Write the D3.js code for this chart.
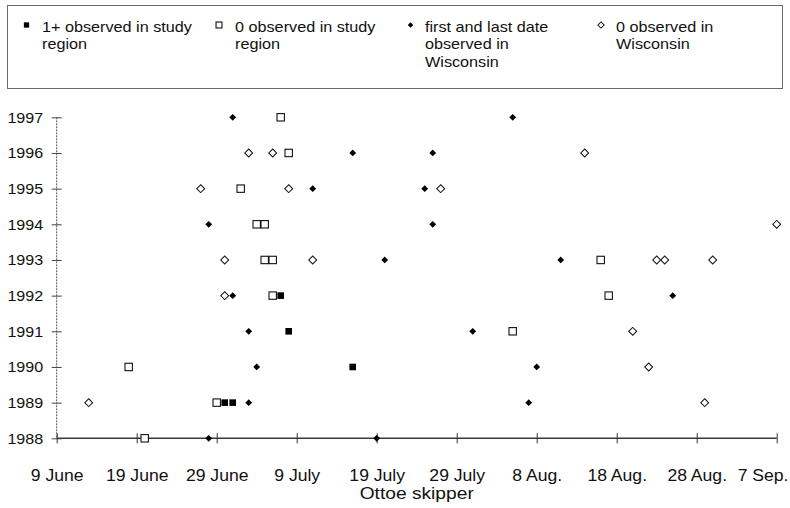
<!DOCTYPE html>
<html>
<head>
<meta charset="utf-8">
<script src="https://cdn.jsdelivr.net/npm/d3@7"></script>
<style>
  html, body { margin: 0; padding: 0; background: #fff; }
  svg { display: block; font-family: "Liberation Sans", Arial, Helvetica, sans-serif; }
</style>
</head>
<body>
<svg id="chart" width="790" height="508"></svg>
<script>
// ---- data (dates within the season; year axis = observation year) ----
const tickDates = ["06-09","06-19","06-29","07-09","07-19","07-29","08-08","08-18","08-28","09-07"];
const tickLabels = ["9 June","19 June","29 June","9 July","19 July","29 July","8 Aug.","18 Aug.","28 Aug.","7 Sep."];
const years = [1988,1989,1990,1991,1992,1993,1994,1995,1996,1997];

// 1+ observed in study region (filled square)
const obsStudyYears = [1992, 1991, 1990, 1989, 1989];
const obsStudyDates = ["07-07","07-08","07-16","06-30","07-01"];

// 0 observed in study region (open square)
const zeroStudyYears = [1997, 1996, 1995, 1994, 1994, 1993, 1993, 1993, 1992, 1992, 1991, 1990, 1989, 1988];
const zeroStudyDates = ["07-07","07-08","07-02","07-04","07-05","07-05","07-06","08-16","07-06","08-17","08-05","06-18","06-29","06-20"];

// first and last date observed in Wisconsin (filled diamond)
const wiFirstLastYears = [1997,1997,1996,1996,1995,1995,1994,1994,1993,1993,1992,1992,1991,1991,1990,1990,1989,1989,1988,1988];
const wiFirstLastDates = ["07-01","08-05","07-16","07-26","07-11","07-25","06-28","07-26","07-20","08-11","07-01","08-25","07-03","07-31","07-04","08-08","07-03","08-07","06-28","07-19"];

// 0 observed in Wisconsin (open diamond)
const zeroWiYears = [1996,1996,1996,1995,1995,1995,1994,1993,1993,1993,1993,1993,1992,1991,1990,1989,1989];
const zeroWiDates = ["07-03","07-06","08-14","06-27","07-08","07-27","09-07","06-30","07-11","08-23","08-24","08-30","06-30","08-20","08-22","06-13","08-29"];

const legendLabels = [
  ["1+ observed in study", "region"],
  ["0 observed in study", "region"],
  ["first and last date", "observed in", "Wisconsin"],
  ["0 observed in", "Wisconsin"]
];
const xTitle = "Ottoe skipper";

// ---- setup ----
const W = 790;
const parse = s => d3.timeParse("%Y-%m-%d")("2001-" + s);
const svg = d3.select("#chart");

const x = d3.scaleTime()
  .domain([parse(tickDates[0]), parse(tickDates[tickDates.length - 1])])
  .range([56.7, 776.7]);
const y = d3.scaleLinear().domain([1988, 1997]).range([438.3, 117.3]);

// ---- legend box ----
const leg = svg.append("g");
leg.append("rect").attr("x", 7.5).attr("y", 5.5).attr("width", 775).attr("height", 83)
  .attr("fill", "none").attr("stroke", "#6a6a6a").attr("stroke-width", 1);

const legendItems = [
  {mx: 26.5, tx: 42, kind: "fsq"},
  {mx: 219, tx: 235, kind: "osq"},
  {mx: 410.5, tx: 425, kind: "fdi"},
  {mx: 601, tx: 616, kind: "odi"}
];

function drawMarker(g, kind, cx, cy, scale) {
  const s = scale || 1;
  if (kind === "fsq") {
    const a = 6.6 * s;
    g.append("rect").attr("x", cx - a/2).attr("y", cy - a/2).attr("width", a).attr("height", a).attr("fill", "#000");
  } else if (kind === "osq") {
    const a = 7.4 * s;
    g.append("rect").attr("x", cx - a/2).attr("y", cy - a/2).attr("width", a).attr("height", a)
      .attr("fill", "#fff").attr("stroke", "#111").attr("stroke-width", 1.1);
  } else if (kind === "fdi") {
    const a = 4.8 * s;
    g.append("rect").attr("x", -a/2).attr("y", -a/2).attr("width", a).attr("height", a)
      .attr("transform", `translate(${cx},${cy}) rotate(45)`).attr("fill", "#000");
  } else {
    const a = 5.6 * s;
    g.append("rect").attr("x", -a/2).attr("y", -a/2).attr("width", a).attr("height", a)
      .attr("transform", `translate(${cx},${cy}) rotate(45)`)
      .attr("fill", "#fff").attr("stroke", "#111").attr("stroke-width", 1);
  }
}

legendItems.forEach((it, i) => {
  drawMarker(leg, it.kind, it.mx, 25, 0.8);
  const t = leg.append("g").attr("transform", `translate(${it.tx},32) scale(1.08,1)`);
  legendLabels[i].forEach((line, j) => {
    t.append("text").attr("x", 0).attr("y", j * 17.5)
      .attr("font-size", 15).attr("fill", "#111").text(line);
  });
});

// ---- axes ----
svg.append("line").attr("x1", 56.7).attr("x2", 56.7).attr("y1", y(1997)).attr("y2", y(1988))
  .attr("stroke", "#555").attr("stroke-width", 1).attr("stroke-dasharray", "2,1");

const yAxis = svg.append("g").attr("transform", "translate(56.7,0)")
  .call(d3.axisLeft(y).tickValues(years).tickFormat(d3.format("d")).tickSize(5));
yAxis.select(".domain").remove();
yAxis.selectAll(".tick line").attr("x1", -5).attr("x2", 5).attr("stroke", "#444");
yAxis.selectAll(".tick text")
  .attr("x", 0).attr("dy", 0).attr("y", 0)
  .attr("text-anchor", "end")
  .attr("transform", "translate(-13.5,5) scale(1.15,1)")
  .attr("font-size", 14).attr("fill", "#111")
  .attr("font-family", "'Liberation Sans', Arial, sans-serif");

const xAxis = svg.append("g").attr("transform", `translate(0,${y(1988)})`)
  .call(d3.axisBottom(x).tickValues(tickDates.map(parse))
    .tickFormat((d, i) => tickLabels[i]).tickSize(5));
xAxis.select(".domain").attr("stroke", "#3a3a3a").attr("stroke-width", 1.6)
  .attr("d", `M${x.range()[0]},0H${x.range()[1]}`);
xAxis.selectAll(".tick line").attr("y1", -5).attr("y2", 5).attr("stroke", "#333");
const sx = 1.1;
xAxis.selectAll(".tick text")
  .attr("y", 0).attr("dy", 0)
  .attr("font-size", 16).attr("fill", "#111")
  .attr("font-family", "'Liberation Sans', Arial, sans-serif")
  .each(function(d) {
    // keep the label inside the picture: shift left if it would overflow
    const w = this.getBBox().width * sx;
    const right = x(d) + w / 2;
    const shift = right > W - 2 ? (W - 2 - right) : 0;
    d3.select(this).attr("transform", `translate(${shift},42.5) scale(${sx},1)`);
  });

// x title
svg.append("text")
  .attr("transform", `translate(${(x.range()[0] + x.range()[1]) / 2},498.5) scale(1.13,1)`)
  .attr("text-anchor", "middle").attr("font-size", 17).attr("fill", "#111").text(xTitle);

// ---- points ----
const pts = svg.append("g");
const series = [
  {kind: "odi", ys: zeroWiYears, ds: zeroWiDates},
  {kind: "osq", ys: zeroStudyYears, ds: zeroStudyDates},
  {kind: "fsq", ys: obsStudyYears, ds: obsStudyDates},
  {kind: "fdi", ys: wiFirstLastYears, ds: wiFirstLastDates}
];
series.forEach(s => {
  s.ys.forEach((yr, i) => {
    drawMarker(pts, s.kind, x(parse(s.ds[i])), y(yr), 1);
  });
});
</script>
</body>
</html>
